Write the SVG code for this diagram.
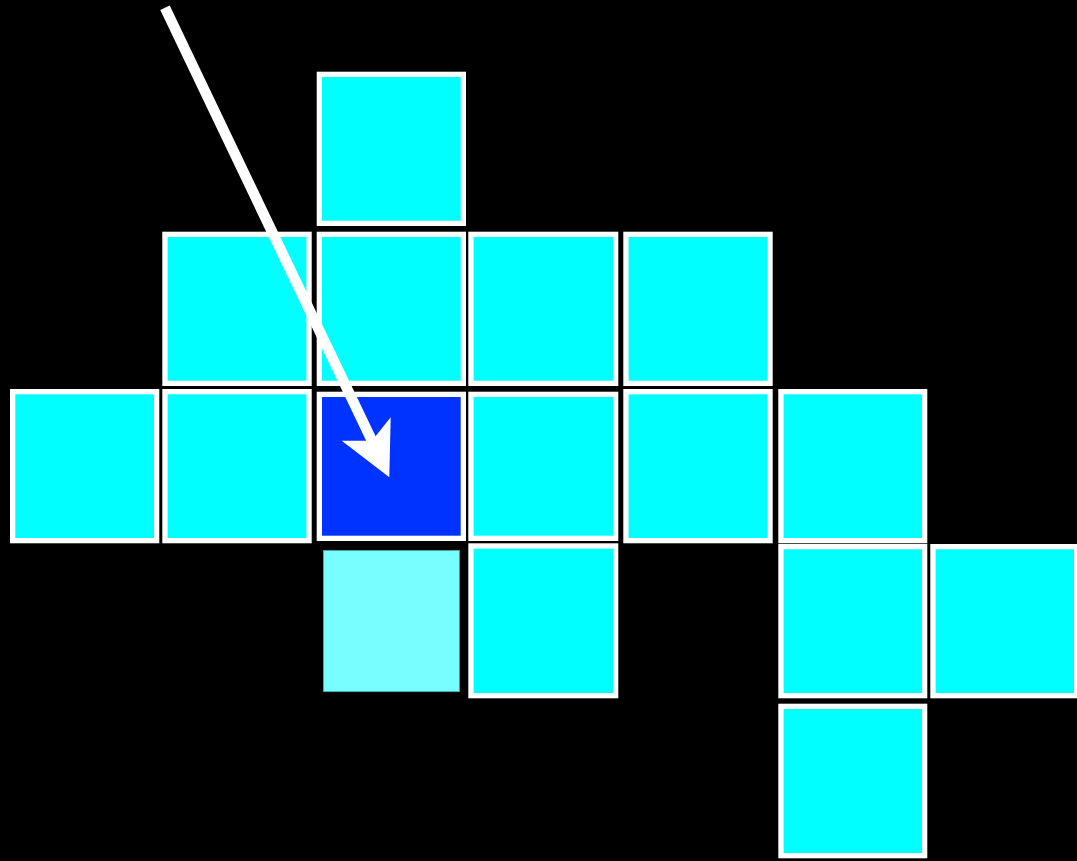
<svg xmlns="http://www.w3.org/2000/svg" width="1077" height="861" viewBox="0 0 1077 861">
<style>
.cell{fill:#00ffff;stroke:#ffffff;stroke-width:5.3}
.cur{fill:#0033ff;stroke:#ffffff;stroke-width:5.3}
.ghost{fill:#77ffff;stroke:#4aa6a6;stroke-width:0.8}
.arrow{stroke:#ffffff;stroke-width:10.5;fill:none}
</style>
<rect x="0" y="0" width="1077" height="861" fill="#000000"/>
<g id="nodes">
<g id="r0c2"><rect class="cell" x="319.35" y="74.35" width="144" height="149"/></g>
<g id="r1c1"><rect class="cell" x="164.95" y="234.35" width="144.1" height="149"/></g>
<g id="r1c2"><rect class="cell" x="319.35" y="234.35" width="144" height="149"/></g>
<g id="r1c3"><rect class="cell" x="470.95" y="234.35" width="144.7" height="149"/></g>
<g id="r1c4"><rect class="cell" x="625.95" y="234.35" width="144.1" height="149"/></g>
<g id="r2c0"><rect class="cell" x="12.65" y="391.65" width="144" height="149"/></g>
<g id="r2c1"><rect class="cell" x="164.95" y="391.65" width="144.1" height="149"/></g>
<g id="r2c2"><rect class="cur" x="319.35" y="394.35" width="144" height="144"/></g>
<g id="r2c3"><rect class="cell" x="470.95" y="394.35" width="144.7" height="144"/></g>
<g id="r2c4"><rect class="cell" x="625.95" y="391.65" width="144.1" height="149"/></g>
<g id="r2c5"><rect class="cell" x="780.95" y="391.65" width="143.7" height="149"/></g>
<g id="r3c2"><rect class="ghost" x="323.4" y="550.4" width="136" height="141.3"/></g>
<g id="r3c3"><rect class="cell" x="470.95" y="545.95" width="144.7" height="149.7"/></g>
<g id="r3c5"><rect class="cell" x="780.95" y="546.65" width="143.7" height="149"/></g>
<g id="r3c6"><rect class="cell" x="932.95" y="546.65" width="143.7" height="149"/></g>
<g id="r4c5"><rect class="cell" x="780.95" y="706.35" width="143.7" height="149.3"/></g>
</g>
<g id="connectors">
<line class="arrow" x1="165" y1="7.8" x2="374" y2="445"/>
<polygon fill="#ffffff" points="389.3,477.3 341.7,440.7 372,440.7 390.7,417.3"/>
</g>
</svg>
